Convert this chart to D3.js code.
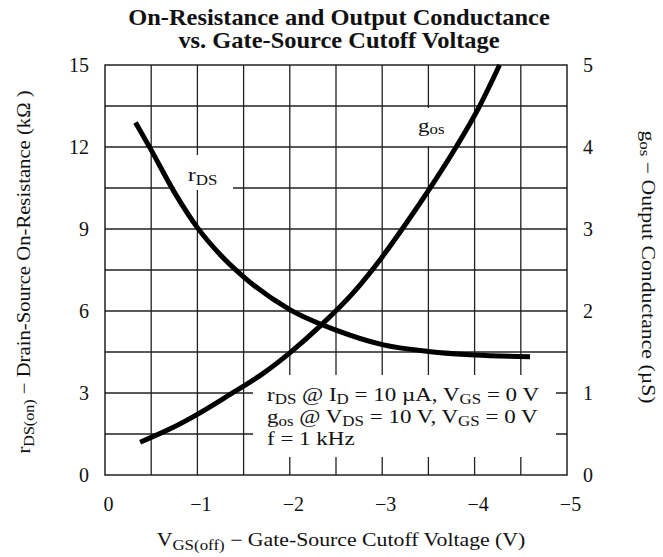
<!DOCTYPE html>
<html><head><meta charset="utf-8">
<script src="https://cdn.jsdelivr.net/npm/d3@7"></script>
<style>body{margin:0;background:#fff} svg{display:block}</style>
</head><body>
<svg id="c" width="663" height="557"></svg>
<script>
// ---------- data ----------
const titleLines = ["On-Resistance and Output Conductance", "vs. Gate-Source Cutoff Voltage"];
const xTickValues = [0, -1, -2, -3, -4, -5];
const rdsTickValues = [0, 3, 6, 9, 12, 15];
const gosTickValues = [0, 1, 2, 3, 4, 5];
// rDS curve (kΩ) vs VGS(off) (V)
const rdsVgs  = [-0.33, -0.49, -0.75, -1.0, -1.25, -1.5, -2.0, -2.5, -3.0, -3.5, -4.0, -4.6];
const rdsKohm = [12.9, 11.95, 10.35, 9.05, 8.05, 7.25, 6.05, 5.3, 4.77, 4.52, 4.39, 4.33];
// gos curve (µS) vs VGS(off) (V)
const gosVgs = [-0.38, -0.7, -1.0, -1.35, -1.7, -2.0, -2.35, -2.7, -3.0, -3.26, -3.53, -3.8, -4.05, -4.27];
const gosUs  = [0.40, 0.56, 0.74, 0.98, 1.23, 1.49, 1.84, 2.24, 2.66, 3.07, 3.52, 4.0, 4.49, 5.0];

// ---------- layout ----------
const FONT = "'Liberation Serif','Times New Roman',serif";
const SX = 1.21; // horizontal stretch of reference lettering
const L = 105, R = 567, T = 65, B = 475;
const svg = d3.select("#c");
const x  = d3.scaleLinear().domain([0, -5]).range([L, R]);
const yL = d3.scaleLinear().domain([0, 15]).range([B, T]);
const yR = d3.scaleLinear().domain([0, 5]).range([B, T]);

// grid
const grid = svg.append("g").attr("stroke", "#222").attr("stroke-width", 1.3);
grid.selectAll("line.v").data(d3.range(1, 10)).join("line")
  .attr("x1", i => x(-0.5 * i)).attr("x2", i => x(-0.5 * i))
  .attr("y1", T).attr("y2", B);
grid.selectAll("line.h").data(d3.range(1, 10)).join("line")
  .attr("y1", i => yL(1.5 * i)).attr("y2", i => yL(1.5 * i))
  .attr("x1", L).attr("x2", R);

// white label boxes (mask the grid)
const boxes = [
  {x0: L + 70, x1: L + 128, y0: T + 90, y1: T + 125},
  {x0: L + 309, x1: L + 345, y0: T + 43, y1: T + 81},
  {x0: L + 148, x1: R - 11, y0: T + 310, y1: B - 18}
];
svg.selectAll("rect.box").data(boxes).join("rect")
  .attr("x", d => d.x0).attr("y", d => d.y0)
  .attr("width", d => d.x1 - d.x0).attr("height", d => d.y1 - d.y0)
  .attr("fill", "#fff");

// frame
svg.append("rect").attr("x", L).attr("y", T).attr("width", R - L).attr("height", B - T)
  .attr("fill", "none").attr("stroke", "#222").attr("stroke-width", 1.5);

// tick labels via d3 axes
const fmtX = d => d === 0 ? "0" : "\u2212" + Math.abs(d);
const ax = svg.append("g").attr("transform", `translate(3,${B})`)
  .call(d3.axisBottom(x).tickValues(xTickValues).tickSize(0).tickPadding(22).tickFormat(fmtX));
const al = svg.append("g").attr("transform", `translate(${L},0)`)
  .call(d3.axisLeft(yL).tickValues(rdsTickValues).tickSize(0).tickPadding(16).tickFormat(d3.format("d")));
const ar = svg.append("g").attr("transform", `translate(${R},0)`)
  .call(d3.axisRight(yR).tickValues(gosTickValues).tickSize(0).tickPadding(16).tickFormat(d3.format("d")));
[ax, al, ar].forEach(g => {
  g.select(".domain").remove();
  g.selectAll("text").attr("font-family", FONT).attr("font-size", 20).attr("fill", "#111");
});

// curves
const line = d3.line().curve(d3.curveMonotoneX);
svg.append("path")
  .attr("d", line(rdsVgs.map((v, i) => [x(v), yL(rdsKohm[i])])))
  .attr("fill", "none").attr("stroke", "#000").attr("stroke-width", 5);
svg.append("path")
  .attr("d", line(gosVgs.map((v, i) => [x(v), yR(gosUs[i])])))
  .attr("fill", "none").attr("stroke", "#000").attr("stroke-width", 5);

// text helpers
function rich(g, parts, size, subSize, drop) {
  let inSub = false;
  parts.forEach(([t, sub]) => {
    const ts = g.append("tspan").text(t).attr("font-size", sub ? subSize : size);
    if (sub && !inSub) ts.attr("dy", drop);
    if (!sub && inSub) ts.attr("dy", -drop);
    inSub = sub;
  });
  return g;
}
function txt(xp, yp, anchor, rot, sx) {
  return svg.append("text").attr("x", 0).attr("y", 0)
    .attr("transform", `translate(${xp},${yp}) rotate(${rot || 0}) scale(${sx || SX},1)`)
    .attr("text-anchor", anchor || "start")
    .attr("font-family", FONT).attr("fill", "#111");
}

// title
titleLines.forEach((t, i) => {
  txt(339, 25 + i * 23, "middle", 0, 1.04).attr("font-weight", "bold").attr("font-size", 23.5).text(t);
});

// curve labels
rich(txt(188, 181), [["r", false], ["DS", true]], 19, 14, 4);
rich(txt(418, 132), [["g", false], ["os", true]], 19, 14, 2);

// annotation
rich(txt(267, 401), [["r", false], ["DS", true], [" @ I", false], ["D", true], [" = 10 \u00B5A, V", false], ["GS", true], [" = 0 V", false]], 19, 14, 3);
rich(txt(267, 423), [["g", false], ["os", true], [" @ V", false], ["DS", true], [" = 10 V, V", false], ["GS", true], [" = 0 V", false]], 19, 14, 3);
txt(267, 445).attr("font-size", 19).text("f = 1 kHz");

// axis titles
rich(txt(341, 546, "middle"), [["V", false], ["GS(off)", true], [" \u2212 Gate-Source Cutoff Voltage (V)", false]], 18, 14, 4);
rich(txt(30, 272, "middle", -90, 1.15),
  [["r", false], ["DS(on)", true], [" \u2212 Drain-Source On-Resistance (k\u03A9 )", false]], 18, 14, 4);
rich(txt(642, 267, "middle", 90),
  [["g", false], ["os", true], [" \u2212 Output Conductance (\u00B5S)", false]], 18, 14, 2);
</script>
</body></html>
